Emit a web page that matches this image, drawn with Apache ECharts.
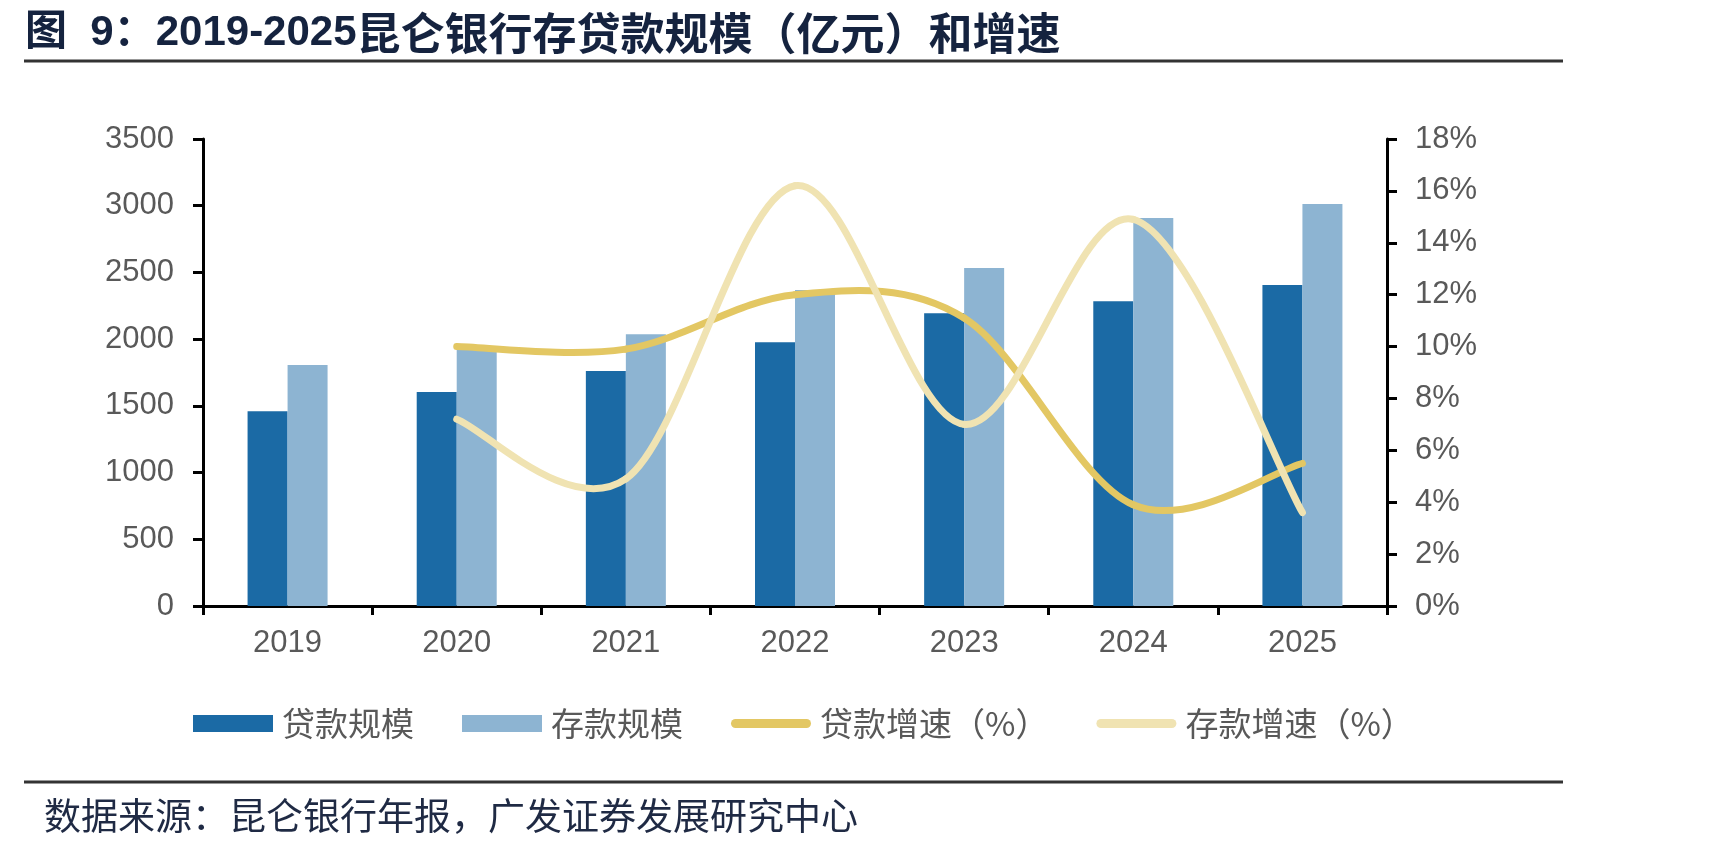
<!DOCTYPE html>
<html>
<head>
<meta charset="utf-8">
<title>昆仑银行存贷款规模和增速</title>
<script src="https://cdn.jsdelivr.net/npm/echarts@6/dist/echarts.min.js"></script>
<style>
  html, body { margin: 0; padding: 0; background: #fff; }
  #chart { width: 1710px; height: 852px; }
</style>
</head>
<body>
<div id="chart"></div>
<script>
// 年份
const years = ['2019', '2020', '2021', '2022', '2023', '2024', '2025']
// 贷款规模、存款规模（亿元）
const loanScale = [1459, 1604, 1762, 1976, 2194, 2284, 2406]
const depositScale = [1806, 1936, 2036, 2368, 2533, 2908, 3013]
// 增速（%），2019 无数据
const loanGrowth = [null, 10.0, 9.9, 12.0, 11.1, 3.9, 5.5]
const depositGrowth = [null, 7.2, 4.9, 16.2, 7.0, 14.9, 3.6]

const titleColor = '#15233f'
const labelColor = '#595959'
const latin = '"Liberation Sans", Arial, "Noto Sans CJK SC", sans-serif'
const cjk = '"Noto Sans CJK SC", "Liberation Sans", sans-serif'
const loanColor = '#e3c763'
const depositColor = '#f0e3b2'

// 图例中的线条图标（圆头粗线）
const lineIcon = 'path://M0,0 M80,17 M4.5,4 L75.5,4 A4.5,4.5 0 0 1 75.5,13 L4.5,13 A4.5,4.5 0 0 1 4.5,4 Z'

// 平滑曲线：类似 Excel 的平滑线（Catmull-Rom），逐段绘制
function smoothLine(color) {
  return function(params, api) {
    const i = params.dataIndex
    const val = j => api.value(1, j)
    const ok = j => j >= 0 && j < years.length && !isNaN(val(j))
    if (!ok(i) || !ok(i + 1)) return null
    const pt = j => api.coord([j, val(j)])
    const p1 = pt(i)
    const p2 = pt(i + 1)
    const p0 = ok(i - 1) ? pt(i - 1) : p1
    const p3 = ok(i + 2) ? pt(i + 2) : p2
    return {
      type: 'bezierCurve',
      shape: {
        x1: p1[0], y1: p1[1],
        cpx1: p1[0] + (p2[0] - p0[0]) / 6,
        cpy1: p1[1] + (p2[1] - p0[1]) / 6,
        cpx2: p2[0] - (p3[0] - p1[0]) / 6,
        cpy2: p2[1] - (p3[1] - p1[1]) / 6,
        x2: p2[0], y2: p2[1]
      },
      style: { stroke: color, lineWidth: 7, fill: null, lineCap: 'round' }
    }
  }
}

const chart = echarts.init(document.getElementById('chart'))

const option = {
  animation: false,
  backgroundColor: '#fff',
  title: {
    text: '{a|图  9：2019-2025}{b|昆仑银行存贷款规模（亿元）和增速}',
    left: 20,
    top: 6,
    textStyle: {
      rich: {
        a: { color: titleColor, fontSize: 42, fontWeight: 'bold', fontFamily: latin },
        b: { color: titleColor, fontSize: 44, fontWeight: 'bold', fontFamily: cjk }
      }
    }
  },
  graphic: [
    { // 标题下横线
      type: 'line',
      shape: { x1: 24, y1: 61, x2: 1563, y2: 61 },
      style: { stroke: '#333', lineWidth: 3 }
    },
    { // 底部横线
      type: 'line',
      shape: { x1: 24, y1: 782, x2: 1563, y2: 782 },
      style: { stroke: '#333', lineWidth: 3 }
    },
    {
      type: 'text',
      left: 44,
      top: 797,
      style: {
        text: '数据来源：昆仑银行年报，广发证券发展研究中心',
        fill: '#1f2a44',
        fontSize: 37,
        fontFamily: cjk
      }
    }
  ],
  legend: {
    left: 188,
    top: 702,
    itemWidth: 80,
    itemHeight: 17,
    itemGap: 48,
    textStyle: {
      color: labelColor,
      fontSize: 33,
      fontFamily: cjk,
      padding: [0, 0, 0, 4]
    },
    data: [
      { name: '贷款规模', icon: 'rect' },
      { name: '存款规模', icon: 'rect' },
      { name: '贷款增速（%）', icon: lineIcon },
      { name: '存款增速（%）', icon: lineIcon }
    ]
  },
  grid: {
    left: 203,
    right: 323,
    top: 139,
    bottom: 246
  },
  xAxis: {
    type: 'category',
    data: years,
    boundaryGap: true,
    axisLine: { lineStyle: { color: '#000', width: 3 } },
    axisTick: { show: true, length: 9, lineStyle: { color: '#000', width: 3 } },
    axisLabel: { color: labelColor, fontSize: 31, fontFamily: latin, margin: 22 }
  },
  yAxis: [
    {
      type: 'value',
      min: 0,
      max: 3500,
      interval: 500,
      axisLine: { show: true, lineStyle: { color: '#000', width: 3 } },
      axisTick: { show: true, length: 10, lineStyle: { color: '#000', width: 3 } },
      axisLabel: { color: labelColor, fontSize: 31, fontFamily: latin, margin: 29, formatter: v => String(v) },
      splitLine: { show: false }
    },
    {
      type: 'value',
      min: 0,
      max: 18,
      interval: 2,
      position: 'right',
      axisLine: { show: true, lineStyle: { color: '#000', width: 3 } },
      axisTick: { show: true, length: 10, lineStyle: { color: '#000', width: 3 } },
      axisLabel: { color: labelColor, fontSize: 31, fontFamily: latin, margin: 28, formatter: '{value}%' },
      splitLine: { show: false }
    }
  ],
  series: [
    {
      name: '贷款规模',
      type: 'bar',
      data: loanScale,
      barWidth: 40,
      barGap: '0%',
      itemStyle: { color: '#1b6aa5' }
    },
    {
      name: '存款规模',
      type: 'bar',
      data: depositScale,
      barWidth: 40,
      itemStyle: { color: '#8db4d2' }
    },
    {
      name: '贷款增速（%）',
      type: 'custom',
      yAxisIndex: 1,
      z: 5,
      renderItem: smoothLine(loanColor),
      encode: { x: 0, y: 1 },
      itemStyle: { color: loanColor },
      data: loanGrowth.map((v, i) => [i, v === null ? NaN : v])
    },
    {
      name: '存款增速（%）',
      type: 'custom',
      yAxisIndex: 1,
      z: 6,
      renderItem: smoothLine(depositColor),
      encode: { x: 0, y: 1 },
      itemStyle: { color: depositColor },
      data: depositGrowth.map((v, i) => [i, v === null ? NaN : v])
    }
  ]
}

chart.setOption(option)
</script>
</body>
</html>
